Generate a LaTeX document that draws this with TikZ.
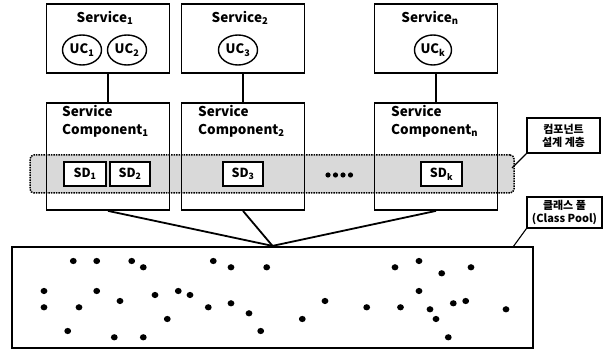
\documentclass[tikz,border=0pt]{standalone}
\usepackage{fontspec}
\setmainfont{Noto Sans CJK KR}
\usetikzlibrary{shapes.geometric}
\tikzset{
  box/.style={draw, line width=1.8pt, minimum width=123pt, inner sep=0pt},
  svcbox/.style={box, minimum height=69pt},
  compbox/.style={box, minimum height=107pt},
  uc/.style={ellipse, draw, line width=1.4pt, minimum width=39pt, minimum height=30pt,
    inner sep=0pt, font=\bfseries\fontsize{13}{13}\selectfont},
  sdbox/.style={draw, fill=white, line width=1.6pt, minimum width=41pt, minimum height=24pt,
    inner sep=0pt, font=\bfseries\fontsize{12.5}{12.5}\selectfont},
  svctitle/.style={inner sep=0pt, font=\bfseries\fontsize{13.5}{13.5}\selectfont},
  comptitle/.style={inner sep=0pt, anchor=west, align=left, font=\bfseries\fontsize{13.5}{18}\selectfont},
  note/.style={draw, fill=white, line width=1.3pt, align=center, inner sep=0pt,
    font=\bfseries\fontsize{11}{13}\selectfont},
  layerband/.style={draw, densely dotted, line width=1.5pt, fill=gray!30, rounded corners=4pt,
    minimum width=484pt, minimum height=38pt, inner sep=0pt},
  link/.style={line width=1.8pt},
  leader/.style={line width=1.1pt},
}
\begin{document}
\begin{tikzpicture}[x=1pt, y=-1pt]
\useasboundingbox (0,0) rectangle (606,352);

% design layer band (behind the component boxes)
\node[layerband] (band) at (272,174) {};

% services
\node[svcbox] (s1) at (108,38.5) {};
\node[svcbox] (s2) at (243,38.5) {};
\node[svcbox] (sn) at (436,38.5) {};
\node[svctitle] (s1t) at (105,18) {Service\textsubscript{1}};
\node[svctitle] (s2t) at (240,18) {Service\textsubscript{2}};
\node[svctitle] (snt) at (430,18) {Service\textsubscript{n}};

% use cases
\node[uc] (uc1) at (82,50) {UC\textsubscript{1}};
\node[uc] (uc2) at (127,50) {UC\textsubscript{2}};
\node[uc] (uc3) at (238,50) {UC\textsubscript{3}};
\node[uc, minimum width=37pt] (uck) at (433,50) {UC\textsubscript{k}};

% service components
\node[compbox] (c1) at (108,156.5) {};
\node[compbox] (c2) at (243,156.5) {};
\node[compbox] (cn) at (436,156.5) {};
\node[comptitle] (c1t) at (62,121) {Service\\Component\textsubscript{1}};
\node[comptitle] (c2t) at (198,121) {Service\\Component\textsubscript{2}};
\node[comptitle] (cnt) at (391,121) {Service\\Component\textsubscript{n}};

% service designs
\node[sdbox, minimum width=42pt] (sd1) at (85,174) {SD\textsubscript{1}};
\node[sdbox, minimum width=40pt] (sd2) at (130,174) {SD\textsubscript{2}};
\node[sdbox, minimum width=40pt] (sd3) at (243,174) {SD\textsubscript{3}};
\node[sdbox] (sdk) at (441.5,174) {SD\textsubscript{k}};
\foreach \x in {328,335.5,343,350.5}
  \fill (\x,175) circle[radius=2.6];

% service -> component
\draw[link] (s1.south) -- (c1.north);
\draw[link] (s2.south) -- (c2.north);
\draw[link] (sn.south) -- (cn.north);

% class pool
\node[draw, line width=2.2pt, minimum width=521pt, minimum height=101pt, inner sep=0pt]
  (pool) at (272.5,297.5) {};
\draw[link] (c1.south) -- (pool.north);
\draw[link] (c2.south) -- (pool.north);
\draw[link] (cn.south) -- (pool.north);

% classes in the pool
\foreach \x/\y in {73.3/261, 96.7/261, 131.7/261, 143.3/267.3, 44/291, 96.7/291,
    178.3/291, 190/295, 155/295, 120/301, 44/307.3, 79/307.3, 167.3/319, 67.7/331,
    114.3/337.3, 143.3/337.3, 213.3/261, 231/267.3, 266.7/267.3, 395/267.3,
    208.3/307.3, 231/303.3, 249/313.3, 260.7/331, 302.3/319, 325/301, 366.7/307.3,
    400.5/307.3, 419/261, 441.7/273.3, 471/267.3, 419/291, 430/309.3, 453.3/303.3,
    465.7/301, 436/319, 448.3/337.3, 506/309.3}
  \fill (\x,\y) ellipse[x radius=3.4, y radius=3.1];

% callouts
\node[note, minimum width=73pt, minimum height=35pt] (n1) at (563.5,135.5) {컴포넌트\\설계 계층};
\node[note, minimum width=75pt, minimum height=31pt] (n2) at (564.5,212.5) {클래스 풀\\(Class Pool)};
\coordinate (bandpt) at (512,168);
\coordinate (poolpt) at (513,247);
\draw[leader] (n1.south west) -- (bandpt);
\draw[leader] (n2.south west) -- (poolpt);
\end{tikzpicture}
\end{document}
